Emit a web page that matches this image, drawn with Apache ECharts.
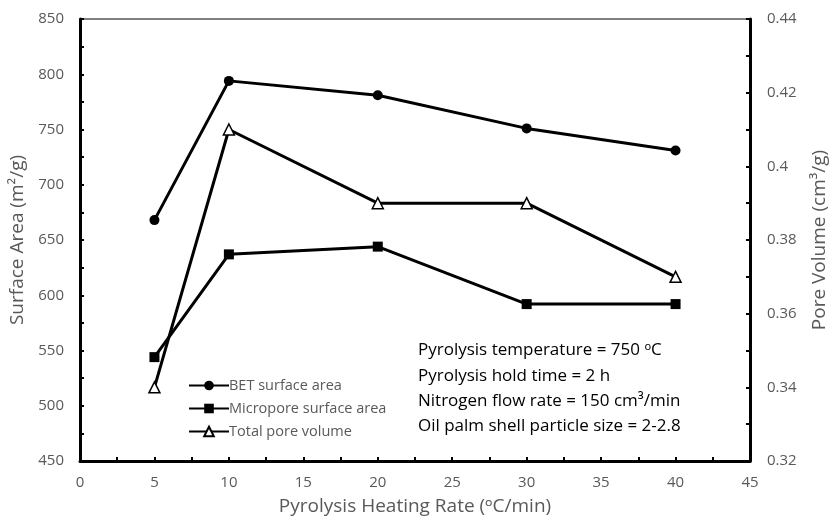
<!DOCTYPE html>
<html><head><meta charset="utf-8">
<script src="https://cdn.jsdelivr.net/npm/echarts@6/dist/echarts.min.js"></script>
<style>html,body{margin:0;padding:0;background:#fff}#c{width:837px;height:524px}</style>
</head><body><div id="c"></div>
<script>
const heatingRate = [5, 10, 20, 30, 40];
const betArea = [668, 794, 781, 751, 731];
const microArea = [544, 637, 644, 592, 592];
const poreVolume = [0.34, 0.41, 0.39, 0.39, 0.37];
const notes = ['Pyrolysis temperature = 750 ᵒC','Pyrolysis hold time = 2 h','Nitrogen flow rate = 150 cm³/min','Oil palm shell particle size = 2-2.8'];

const FONT = '"Open Sans", "Noto Sans", sans-serif';
const grey = '#595959';
const chart = echarts.init(document.getElementById('c'));
const pair = (xs, ys) => xs.map((x, i) => [x, ys[i]]);
const axisCommon = {
  axisLine: {show: true, lineStyle: {color: '#000', width: 3}},
  axisTick: {show: true, inside: true, length: 4, lineStyle: {color: '#000', width: 2}},
  minorTick: {show: true, splitNumber: 2, length: 4, lineStyle: {color: '#000', width: 2}},
  splitLine: {show: false},
  axisLabel: {color: grey, fontSize: 15, fontFamily: FONT},
  nameTextStyle: {color: grey, fontSize: 19, fontFamily: FONT}
};
chart.setOption({
  animation: false,
  grid: {left: 80, right: 81, top: 19, bottom: 63, show: true, borderColor: '#000', borderWidth: 1},
  legend: {
    orient: 'vertical', left: 183, top: 373, itemWidth: 40, itemHeight: 12, itemGap: 8,
    textStyle: {color: grey, fontSize: 14.5, fontFamily: FONT, padding: [0,0,0,-5]},
    data: ['BET surface area', 'Micropore surface area', 'Total pore volume']
  },
  xAxis: Object.assign({}, axisCommon, {
    type: 'value', min: 0, max: 45, interval: 5,
    name: 'Pyrolysis Heating Rate (ᵒC/min)', nameLocation: 'middle', nameGap: 36,
    axisLabel: Object.assign({}, axisCommon.axisLabel, {margin: 14})
  }),
  yAxis: [
    Object.assign({}, axisCommon, {
      type: 'value', min: 450, max: 850, interval: 50,
      name: 'Surface Area (m²/g)', nameLocation: 'middle', nameGap: 48,
      axisLabel: Object.assign({}, axisCommon.axisLabel, {margin: 16})
    }),
    Object.assign({}, axisCommon, {
      type: 'value', min: 0.32, max: 0.44, interval: 0.02, position: 'right',
      name: 'Pore Volume (cm³/g)', nameLocation: 'middle', nameGap: 60, nameRotate: 90,
      axisLabel: Object.assign({}, axisCommon.axisLabel, {margin: 17})
    })
  ],
  series: [
    {name: 'BET surface area', type: 'line', yAxisIndex: 0, data: pair(heatingRate, betArea),
     symbol: 'circle', symbolSize: 10, lineStyle: {color: '#000', width: 3}, itemStyle: {color: '#000'}},
    {name: 'Micropore surface area', type: 'line', yAxisIndex: 0, data: pair(heatingRate, microArea),
     symbol: 'rect', symbolSize: 10, lineStyle: {color: '#000', width: 3}, itemStyle: {color: '#000'}},
    {name: 'Total pore volume', type: 'line', yAxisIndex: 1, data: pair(heatingRate, poreVolume),
     symbol: 'triangle', symbolSize: 11, lineStyle: {color: '#000', width: 3},
     itemStyle: {color: '#fff', borderColor: '#000', borderWidth: 1.5}}
  ],
  graphic: notes.map((t, i) => ({
    type: 'text', left: 418, top: 342 + i * 25.3,
    style: {text: t, fill: '#000', font: '17px ' + FONT}
  }))
});
</script></body></html>
